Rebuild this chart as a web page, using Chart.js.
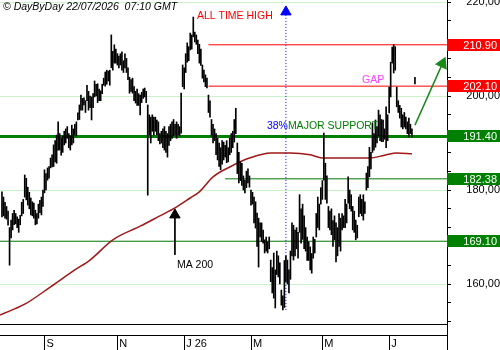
<!DOCTYPE html>
<html>
<head>
<meta charset="utf-8">
<script src="https://cdn.jsdelivr.net/npm/chart.js@4.4.1/dist/chart.umd.min.js"></script>
<style>
html, body { margin: 0; padding: 0; background: #fff; }
</style>
</head>
<body>
<canvas id="chart" width="500" height="350"></canvas>
<script>
// daily bars, oldest first (index = trading day)
const highs = [
  179.6,178.5,177.4,176.5,175.5,172.0,173.6,175.0,175.7,175.0,
  174.3,173.8,174.6,177.4,178.0,183.2,182.5,180.6,179.5,178.3,
  177.5,177.2,175.7,175.0,177.0,177.8,178.5,180.0,184.3,183.5,
  184.7,185.0,186.8,187.5,189.6,190.5,191.7,194.5,192.0,191.0,
  191.5,192.5,193.0,193.5,192.0,191.5,
  193.8,193.0,194.0,194.5,196.4,198.1,200.2,199.5,199.6,199.0,
  202.3,201.0,200.0,199.8,200.5,203.2,202.5,202.6,201.5,201.1,
  202.5,203.8,205.1,205.5,205.3,205.5,213.0,209.5,210.9,210.0,
  209.0,208.5,209.0,209.4,207.5,209.0,208.0,206.0,204.0,203.5,
  203.8,202.0,201.0,201.5,200.5,200.2,200.8,201.5,201.7,201.0,
  198.1,196.0,195.5,196.0,195.5,195.5,194.9,194.5,192.0,192.5,
  193.0,193.5,192.5,192.0,193.5,194.0,194.5,195.0,194.0,194.5,
  194.0,193.5,200.6,206.6,206.0,209.0,211.3,210.5,213.4,213.0,
  216.8,213.6,213.0,211.9,211.0,210.0,206.6,205.5,204.5,203.8,
  200.2,199.0,195.0,194.0,193.0,192.0,191.0,190.0,189.0,190.5,
  190.2,189.5,190.5,189.0,191.0,192.0,192.5,195.0,197.4,190.0,
  188.0,186.0,185.7,183.0,182.1,184.0,184.5,183.0,180.0,179.5,
  178.5,177.5,175.1,174.0,173.0,173.0,171.5,169.4,170.0,169.0,
  170.0,165.1,163.5,166.6,163.0,167.0,166.0,164.5,158.7,157.5,
  165.0,166.0,165.1,163.0,167.0,173.0,172.5,171.5,172.0,171.0,
  179.0,176.0,177.0,174.5,172.0,170.0,169.0,167.9,166.5,170.0,
  169.5,175.0,178.5,177.0,180.5,182.0,192.1,185.7,183.0,176.5,
  175.5,176.0,173.5,174.5,173.0,172.0,175.0,174.0,175.0,174.5,
  178.0,177.0,182.8,180.0,179.0,176.5,175.5,173.6,172.5,178.5,
  179.0,178.0,179.0,177.5,183.6,185.0,189.1,188.0,194.3,192.0,
  194.9,193.5,197.0,196.0,195.0,194.9,193.0,197.7,196.0,201.9,
  207.2,210.4,210.9,210.5,201.9,199.0,198.0,197.4,196.0,196.5,
  195.5,194.5,195.3,194.0,193.0
];
const lows = [
  174.3,174.5,174.0,173.8,172.5,164.0,169.8,171.5,172.6,172.8,
  172.0,171.0,172.6,174.5,175.0,178.5,177.9,176.8,176.0,174.7,
  174.5,174.0,172.6,172.8,174.0,175.2,174.7,176.5,179.4,180.0,
  182.1,182.5,184.7,184.9,185.0,186.0,185.7,188.5,188.5,187.4,
  188.0,189.6,190.0,191.0,189.0,188.5,
  189.6,190.0,191.7,191.5,194.9,195.0,197.0,197.0,198.1,196.5,
  199.0,197.0,197.5,194.9,197.5,199.8,200.0,198.6,199.0,199.0,
  200.5,202.3,202.1,202.5,203.2,202.3,206.0,205.5,207.0,207.0,
  206.6,206.0,206.6,205.5,205.0,206.0,205.0,203.5,200.6,201.0,
  200.6,199.0,198.5,198.0,198.0,196.0,198.6,199.5,199.8,198.6,
  178.9,191.7,190.0,192.5,191.7,192.5,191.8,190.5,189.8,190.0,
  189.0,188.5,188.0,187.0,189.5,190.5,191.0,191.5,191.7,191.0,
  191.7,191.5,192.1,202.0,201.5,205.0,207.2,207.5,209.8,210.0,
  212.6,211.5,211.0,209.0,207.0,206.5,203.8,203.0,202.0,201.7,
  196.5,195.5,191.5,190.0,190.5,187.5,186.4,185.0,184.3,185.5,
  186.4,187.0,185.8,186.0,187.5,188.0,189.0,190.2,192.0,183.5,
  181.5,182.0,181.0,180.0,179.4,180.5,181.5,180.6,176.8,177.0,
  173.0,171.9,168.0,163.6,170.0,169.0,168.7,166.6,167.0,166.6,
  167.5,160.5,158.1,157.0,154.9,162.0,161.5,160.0,155.5,154.5,
  155.0,160.5,160.0,158.1,161.0,166.0,165.1,166.0,167.5,165.5,
  171.0,168.7,169.5,167.5,167.0,165.0,165.0,163.0,162.3,165.5,
  166.6,170.0,172.0,171.5,177.0,178.0,182.1,178.0,177.2,172.0,
  171.5,170.5,168.0,169.4,164.7,166.0,168.0,167.0,171.5,172.0,
  172.0,173.0,177.2,176.0,175.5,171.5,171.0,169.4,169.8,174.3,
  175.0,174.5,173.6,175.0,180.0,180.5,182.8,184.5,188.0,188.5,
  189.1,190.0,191.5,190.5,190.3,190.3,190.8,189.0,190.5,196.4,
  199.8,207.0,204.9,205.5,197.7,196.5,195.3,193.4,193.0,193.4,
  193.0,192.0,191.3,192.0,191.3
];

// last quote tick
const lastIdx = 272;
const lastHigh = 204.0;
const lastLow = 202.6;

// 200 day moving average, read at a few points
const maIdx = [-1.3, 15, 32, 48, 58, 73, 91, 104, 114, 124, 130, 139, 150, 163, 177, 190, 203, 211, 229, 242, 252, 260, 270];
const maVal = [153.4, 155.7, 159.4, 163.0, 165.1, 169.4, 172.3, 174.5, 176.2, 178.3, 179.6, 182.8, 184.9, 186.8, 187.9, 187.9, 187.5, 186.8, 186.8, 186.8, 187.4, 187.9, 187.7];

// horizontal levels
const levels = [210.90, 202.10, 191.40, 182.38, 169.10];
const levelFrom = [136, 136, -1.3, 147, -1.3];
const levelColors = ['#ff0000', '#ff0000', '#008000', '#007800', '#007800'];
const levelWidths = [1, 1, 3, 1, 1];
const levelBoxColors = ['#ff0000', '#ff0000', '#008000', '#008000', '#008000'];

// x axis (months)
const monthIdx = [28, 76, 120, 164, 211, 255];
const monthLabels = ['S', 'N', 'J 26', 'M', 'M', 'J'];

// y axis
const yTickValues = [152, 156, 160, 164, 168, 172, 176, 180, 184, 188, 192, 196, 200, 204, 208, 212, 216, 220];
const yLabelValues = [160, 180, 200, 220];

const xMin = -1.3, xMax = 293.1;
const yMin = 151.49, yMax = 220.43;

// text notes: [text, index, price, color]
const notes = [
  ['ALL TIME HIGH', 128.4, 216.9, '#ff0000'],
  ['38%', 174.5, 193.6, '#0000ff'],
  ['MAJOR SUPPORT', 188.3, 193.6, '#008000'],
  ['GAP', 237.1, 203.4, '#ff40ff'],
  ['MA 200', 115.2, 164.1, '#000000']
];

const FONT = "'Liberation Sans', Arial, sans-serif";

const datasets = [];
datasets.push({
  type: 'bar',
  data: highs.map((h, i) => ({ x: i, y: [lows[i], h] })),
  backgroundColor: '#000',
  barThickness: 1,
  grouped: false,
  order: 0
});
datasets.push({
  type: 'bar',
  data: [{ x: lastIdx, y: [lastLow, lastHigh] }],
  backgroundColor: '#000',
  barThickness: 1,
  grouped: false,
  order: 0
});
datasets.push({
  type: 'line',
  data: maIdx.map((x, i) => ({ x: x, y: maVal[i] })),
  borderColor: '#a01818',
  borderWidth: 1.5,
  pointRadius: 0,
  cubicInterpolationMode: 'monotone',
  order: 2
});
levels.forEach((lv, i) => {
  datasets.push({
    type: 'line',
    data: [{ x: levelFrom[i], y: lv }, { x: xMax, y: lv }],
    borderColor: levelColors[i],
    borderWidth: levelWidths[i],
    pointRadius: 0,
    order: 3
  });
});
// blue dotted retracement marker
datasets.push({
  type: 'line',
  data: [{ x: 187, y: 217.9 }, { x: 187, y: 154.5 }],
  borderColor: '#0000ff',
  borderWidth: 1,
  borderDash: [1, 2],
  pointStyle: 'triangle',
  pointRadius: [6, 0],
  pointBackgroundColor: '#0000ff',
  pointBorderColor: '#0000ff',
  order: 1
});
// MA 200 arrow
datasets.push({
  type: 'line',
  data: [{ x: 113.9, y: 174.7 }, { x: 113.9, y: 166.2 }],
  borderColor: '#000',
  borderWidth: 1,
  pointStyle: 'triangle',
  pointRadius: [6, 0],
  pointBackgroundColor: '#000',
  pointBorderColor: '#000',
  order: 1
});
// green target arrow
datasets.push({
  type: 'line',
  data: [{ x: 272, y: 193.8 }, { x: 290.1, y: 206.9 }],
  borderColor: '#1a8a1a',
  borderWidth: 1.5,
  pointStyle: 'triangle',
  pointRadius: [0, 6],
  pointRotation: 24,
  pointBackgroundColor: '#1a8a1a',
  pointBorderColor: '#1a8a1a',
  order: 1
});

const extras = {
  id: 'extras',
  afterDraw(chart) {
    const ctx = chart.ctx;
    const xs = chart.scales.x, ys = chart.scales.y;
    const area = chart.chartArea;
    ctx.save();

    // copyright
    ctx.fillStyle = '#000';
    ctx.font = 'italic 10.5px ' + FONT;
    ctx.textBaseline = 'top';
    ctx.textAlign = 'left';
    ctx.fillText('\u00a9 DayByDay 22/07/2026  07:10 GMT', 3, 2);

    // notes
    ctx.font = '10.5px ' + FONT;
    ctx.textBaseline = 'middle';
    notes.forEach(n => {
      ctx.fillStyle = n[3];
      ctx.fillText(n[0], xs.getPixelForValue(n[1]), ys.getPixelForValue(n[2]));
    });

    // price boxes
    ctx.font = '11px ' + FONT;
    ctx.textAlign = 'right';
    levels.forEach((lv, i) => {
      const y = Math.round(ys.getPixelForValue(lv));
      ctx.fillStyle = levelBoxColors[i];
      ctx.fillRect(area.right, y - 6, chart.width - area.right, 12);
      ctx.fillStyle = '#fff';
      ctx.fillText(lv.toFixed(2), chart.width - 3, y + 0.5);
    });

    // date band
    ctx.strokeStyle = '#000';
    ctx.lineWidth = 1;
    ctx.beginPath();
    ctx.moveTo(0, 335.5);
    ctx.lineTo(area.right, 335.5);
    ctx.moveTo(Math.round(area.right) + 0.5, area.bottom);
    ctx.lineTo(Math.round(area.right) + 0.5, chart.height);
    monthIdx.forEach(m => {
      const x = Math.round(xs.getPixelForValue(m)) + 0.5;
      ctx.moveTo(x, 335);
      ctx.lineTo(x, chart.height);
    });
    ctx.stroke();
    ctx.restore();
  }
};

new Chart(document.getElementById('chart'), {
  type: 'bar',
  data: { datasets: datasets },
  options: {
    responsive: false,
    animation: false,
    layout: { padding: 0, autoPadding: false },
    plugins: { legend: { display: false }, tooltip: { enabled: false } },
    scales: {
      x: {
        type: 'linear',
        position: 'bottom',
        min: xMin,
        max: xMax,
        offset: false,
        afterFit: s => { s.height = 26; s.paddingLeft = 0; s.paddingRight = 0; },
        afterBuildTicks: s => { s.ticks = monthIdx.map(v => ({ value: v })); },
        ticks: {
          autoSkip: false,
          maxRotation: 0,
          align: 'start',
          padding: 13,
          labelOffset: 2,
          color: '#000',
          font: { family: FONT, size: 11 },
          callback: (v, i) => monthLabels[i]
        },
        grid: { display: false, drawTicks: false, offset: false },
        border: { display: true, color: '#000' }
      },
      y: {
        position: 'right',
        min: yMin,
        max: yMax,
        afterFit: s => { s.width = 53; s.paddingTop = 0; s.paddingBottom = 0; },
        afterBuildTicks: s => { s.ticks = yTickValues.map(v => ({ value: v })); },
        ticks: {
          color: '#000',
          crossAlign: 'far',
          padding: 2,
          font: { family: FONT, size: 11 },
          callback: v => yLabelValues.includes(v) ? v.toFixed(2).replace('.', ',') : ''
        },
        grid: {
          color: c => (c.tick && yLabelValues.includes(c.tick.value)) ? '#ccf2cc' : 'rgba(0,0,0,0)',
          tickColor: '#000',
          tickLength: 4
        },
        border: { display: true, color: '#000' }
      }
    }
  },
  plugins: [extras]
});
</script>
</body>
</html>
